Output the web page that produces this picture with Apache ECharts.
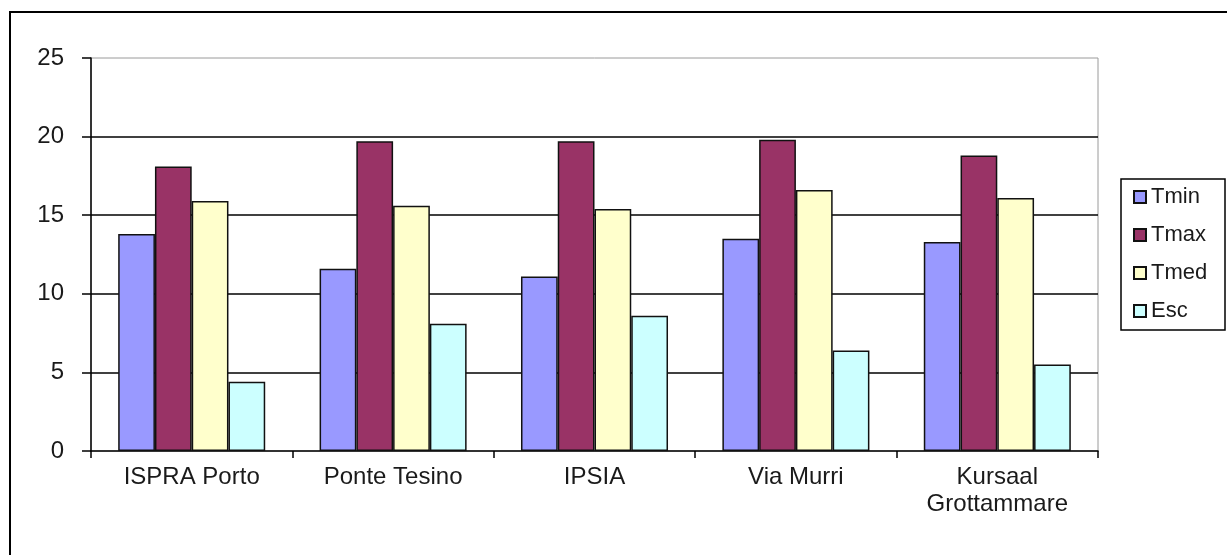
<!DOCTYPE html>
<html>
<head>
<meta charset="utf-8">
<script src="https://cdn.jsdelivr.net/npm/echarts@6/dist/echarts.min.js"></script>
<style>
  html, body { margin: 0; padding: 0; background: #fff; }
  #chart { width: 1227px; height: 555px; }
</style>
</head>
<body>
<div id="chart"></div>
<script>
// Stations (category axis)
const stations = ['ISPRA Porto', 'Ponte Tesino', 'IPSIA', 'Via Murri', 'Kursaal\nGrottammare'];

// Temperatures per station
const tmin = [13.8, 11.6, 11.1, 13.5, 13.3];
const tmax = [18.1, 19.7, 19.7, 19.8, 18.8];
const tmed = [15.9, 15.6, 15.4, 16.6, 16.1];
const esc  = [4.4, 8.1, 8.6, 6.4, 5.5];

// Value axis ticks
const yTicks = [0, 5, 10, 15, 20, 25];

const seriesNames = ['Tmin', 'Tmax', 'Tmed', 'Esc'];
const seriesData = [tmin, tmax, tmed, esc];
const seriesColors = ['#9999FF', '#993366', '#FFFFCC', '#CCFFFF'];

const FONT = '"Liberation Sans", Arial, sans-serif';
const TEXT = '#1a1a1a';

const chart = echarts.init(document.getElementById('chart'), null, { renderer: 'canvas' });

chart.setOption({
  animation: false,
  backgroundColor: '#ffffff',
  textStyle: { fontFamily: FONT },
  graphic: [
    {
      // outer chart frame
      type: 'rect',
      shape: { x: 10, y: 12, width: 1300, height: 700 },
      style: { fill: 'none', stroke: '#000', lineWidth: 2 },
      silent: true,
      z: -10
    },
    {
      // legend box
      type: 'rect',
      shape: { x: 1121, y: 179, width: 104, height: 151 },
      style: { fill: '#fff', stroke: '#000', lineWidth: 1.5 },
      silent: true,
      z: 0
    }
  ],
  grid: {
    left: 91,
    right: 129,
    top: 58,
    bottom: 104,
    show: true,
    borderColor: '#9a9a9a',
    borderWidth: 1,
    containLabel: false
  },
  legend: {
    orient: 'vertical',
    left: 1133,
    top: 185,
    padding: 0,
    itemWidth: 12,
    itemHeight: 12,
    itemGap: 14,
    icon: 'rect',
    data: seriesNames,
    textStyle: {
      fontFamily: FONT,
      fontSize: 22,
      lineHeight: 24,
      color: TEXT
    },
    z: 5
  },
  xAxis: {
    type: 'category',
    data: stations,
    axisLine: { show: true, lineStyle: { color: '#000', width: 1.5 } },
    axisTick: { show: true, alignWithLabel: false, length: 7, lineStyle: { color: '#000', width: 1.5 } },
    axisLabel: {
      fontFamily: FONT,
      fontSize: 24,
      lineHeight: 27,
      color: TEXT,
      margin: 13,
      interval: 0
    },
    splitLine: { show: false }
  },
  yAxis: {
    type: 'value',
    min: yTicks[0],
    max: yTicks[yTicks.length - 1],
    interval: yTicks[1] - yTicks[0],
    axisLine: { show: true, lineStyle: { color: '#000', width: 1.5 } },
    axisTick: { show: true, inside: false, length: 9, lineStyle: { color: '#000', width: 1.5 } },
    axisLabel: {
      fontFamily: FONT,
      fontSize: 24,
      color: TEXT,
      margin: 27
    },
    splitLine: {
      show: true,
      showMinLine: false,
      showMaxLine: false,
      lineStyle: { color: '#000', width: 1.5 }
    }
  },
  series: seriesNames.map((name, i) => ({
    name: name,
    type: 'bar',
    data: seriesData[i],
    barGap: '0%',
    barCategoryGap: '27%',
    itemStyle: {
      color: seriesColors[i],
      borderColor: '#111',
      borderWidth: 1.5
    },
    emphasis: { disabled: true }
  }))
});
</script>
</body>
</html>
